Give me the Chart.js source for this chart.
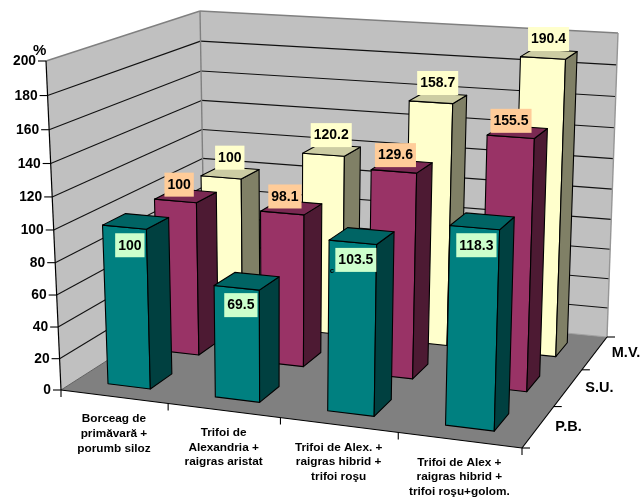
<!DOCTYPE html>
<html><head><meta charset="utf-8">
<style>html,body{margin:0;padding:0;background:#fff}canvas{display:block}</style>
<script src="https://cdn.jsdelivr.net/npm/chart.js@4"></script></head>
<body><canvas id="c" width="643" height="499"></canvas>
<script>
const categories = [
  ['Borceag de','primăvară +','porumb siloz'],
  ['Trifoi de','Alexandria +','raigras aristat'],
  ['Trifoi de Alex. +','raigras hibrid +','trifoi roşu'],
  ['Trifoi de Alex +','raigras hibrid +','trifoi roşu+golom.']
];
const seriesNames = ['P.B.','S.U.','M.V.'];
const pbValues = [100,69.5,103.5,118.3];
const suValues = [100,98.1,129.6,155.5];
const mvValues = [100,120.2,158.7,190.4];

// picture geometry: corners of the 3D box on screen
const FLOOR = [[61,390],[522,448],[607,337],[205,298]];   // front-left, front-right, back-right, back-left
const CEIL  = [[46,61],[532,92],[618,33],[200,11]];
const PERSP = 1.056, UWARP = 0.022;
const BAR_W = 0.4, BAR_D = 0.43; // share of a cell taken by a bar

function homography(q){
  const [[x0,y0],[x1,y1],[x2,y2],[x3,y3]] = q;
  const dx1=x1-x2,dx2=x3-x2,sx=x0-x1+x2-x3,dy1=y1-y2,dy2=y3-y2,sy=y0-y1+y2-y3;
  const d=dx1*dy2-dx2*dy1;
  const g=(sx*dy2-dx2*sy)/d,h=(dx1*sy-sx*dy1)/d;
  const a=x1-x0+g*x1,b=x3-x0+h*x3,c=x0,e=y1-y0+g*y1,f=y3-y0+h*y3,k=y0;
  return (u,v)=>{const w=g*u+h*v+1;return [(a*u+b*v+c)/w,(e*u+f*v+k)/w];};
}
const H0=homography(FLOOR),H1=homography(CEIL);
function P(u,v,w){
  const t=w/(w+PERSP*(1-w));
  const uu=u+UWARP*u*(1-u);
  const a=H0(uu,v),b=H1(uu,v);
  return [a[0]+(b[0]-a[0])*t,a[1]+(b[1]-a[1])*t];
}
function poly(ctx,pts,fill,stroke,lw){
  ctx.beginPath();pts.forEach((p,i)=>i?ctx.lineTo(p[0],p[1]):ctx.moveTo(p[0],p[1]));ctx.closePath();
  if(fill){ctx.fillStyle=fill;ctx.fill();}
  if(stroke){ctx.strokeStyle=stroke;ctx.lineWidth=lw||1;ctx.stroke();}
}
function line(ctx,a,b,color,lw){ctx.beginPath();ctx.moveTo(a[0],a[1]);ctx.lineTo(b[0],b[1]);ctx.strokeStyle=color;ctx.lineWidth=lw||1;ctx.stroke();}

const styles=[
  {front:'#008080',top:'#006464',side:'#004040',box:'#CCFFCC',dx:-6,dy:24},
  {front:'#993366',top:'#7A2952',side:'#4D1A33',box:'#FFCC99',dx:-6.5,dy:-11},
  {front:'#FFFFCC',top:'#CCCCA3',side:'#808066',box:'#FFFFCC',dx:-0.5,dy:-15}
];

const box3d={
  id:'box3d',
  beforeDatasetDraw(){return false;},
  afterDatasetsDraw(chart){
    const ctx=chart.ctx,{x,y,z}=chart.scales;
    const U=i=>x.getDecimalForPixel(x.getPixelForValue(i));
    const V=i=>z.getDecimalForPixel(z.getPixelForValue(i));
    const W=val=>y.getDecimalForPixel(y.getPixelForValue(val));
    const du=1/(2*categories.length)*BAR_W,dv=1/(2*seriesNames.length)*BAR_D;
    ctx.save();ctx.lineJoin='round';
    // walls and floor
    poly(ctx,[P(0,0,0),P(0,1,0),P(0,1,1),P(0,0,1)],'#C0C0C0');
    poly(ctx,[P(0,1,0),P(1,1,0),P(1,1,1),P(0,1,1)],'#C0C0C0');
    poly(ctx,[P(0,0,0),P(1,0,0),P(1,1,0),P(0,1,0)],'#808080');
    // grid
    y.ticks.forEach(t=>{
      const w=W(t.value);
      if(t.value>0&&t.value<200){
        line(ctx,P(0,0,w),P(0,1,w),'#111',1.1);
        line(ctx,P(0,1,w),P(1,1,w),'#111',1.1);
      }
    });
    // wall edges
    line(ctx,P(0,0,1),P(0,1,1),'#808080',1.4);
    line(ctx,P(0,1,1),P(1,1,1),'#808080',1.4);
    line(ctx,P(1,1,1),P(1,1,0),'#969696',1.4);
    line(ctx,P(0,1,1),P(0,1,0),'#808080',1.4);
    line(ctx,P(0,0,0),P(0,1,0),'#606060',1);
    line(ctx,P(0,1,0),P(1,1,0),'#A0A0A0',1);
    // axes
    line(ctx,P(0,0,1),P(0,0,0),'#000',1.2);
    line(ctx,P(0,0,0),P(1,0,0),'#000',1.2);
    line(ctx,P(1,0,0),P(1,1,0),'#000',1.2);
    ctx.fillStyle='#000';
    // y ticks and labels
    ctx.font='bold 13.8px "Liberation Sans"';ctx.textAlign='right';ctx.textBaseline='middle';
    y.ticks.forEach(t=>{
      const p=P(0,0,W(t.value));
      line(ctx,[p[0]-8,p[1]],p,'#000',1.1);
      ctx.fillStyle='#000';ctx.fillText(String(t.value),p[0]-10,p[1]+0.5);
    });
    ctx.textAlign='left';ctx.font='bold 15px "Liberation Sans"';
    ctx.fillText('%',P(0,0,1)[0]-13,P(0,0,1)[1]-10);
    // category ticks and labels
    for(let i=0;i<=categories.length;i++){
      const p=P(i/categories.length,0,0);line(ctx,p,[p[0],p[1]+7],'#000',1.1);
    }
    ctx.textAlign='center';ctx.font='bold 11.8px "Liberation Sans"';
    categories.forEach((lines,i)=>{
      const p=P(U(i),0,0);
      lines.forEach((s,j)=>ctx.fillText(s,p[0],p[1]+22.5+j*14.6));
    });
    // series ticks and labels
    for(let i=0;i<=seriesNames.length;i++){
      const p=P(1,i/seriesNames.length,0);line(ctx,p,[p[0]+8,p[1]],'#000',1.1);
    }
    ctx.textAlign='left';ctx.font='bold 14.5px "Liberation Sans"';
    seriesNames.forEach((s,i)=>{
      const p=P(1,V(i),0);ctx.fillText(s,p[0]+17,p[1]);
    });
    // bars back to front
    const labels=[];
    for(let si=seriesNames.length-1;si>=0;si--){
      const st=styles[si],vals=chart.data.datasets[si].data;
      vals.forEach((val,ci)=>{
        const w=W(val),u0=U(ci)-du,u1=U(ci)+du,v0=V(si)-dv,v1=V(si)+dv;
        poly(ctx,[P(u0,v0,0),P(u1,v0,0),P(u1,v0,w),P(u0,v0,w)],st.front,'#000',1.1);
        poly(ctx,[P(u1,v0,0),P(u1,v1,0),P(u1,v1,w),P(u1,v0,w)],st.side,'#000',1.1);
        poly(ctx,[P(u0,v0,w),P(u1,v0,w),P(u1,v1,w),P(u0,v1,w)],st.top,'#000',1.1);
        const a=P(U(ci),V(si),w);
        labels.push({t:String(val),x:a[0]+st.dx,y:a[1]+st.dy,box:st.box,si});
      });
      // labels of a row stay under nearer rows, as in the reference
      ctx.font='bold 14px "Liberation Sans"';ctx.textAlign='center';
      labels.splice(0).forEach(l=>{
        const tw=ctx.measureText(l.t).width+6;
        ctx.fillStyle=l.box;ctx.fillRect(l.x-tw/2,l.y-12,tw,24);
        ctx.fillStyle='#000';ctx.fillText(l.t,l.x,l.y+0.5);
      });
    }
    // stray mark in the reference
    ctx.font='bold 8px "Liberation Sans"';ctx.fillStyle='#000';ctx.fillText('c',332,271);
    ctx.restore();
  }
};

new Chart(document.getElementById('c'),{
  type:'bar',
  data:{labels:categories.map(c=>c.join(' ')),datasets:[
    {label:seriesNames[0],data:pbValues,backgroundColor:styles[0].front},
    {label:seriesNames[1],data:suValues,backgroundColor:styles[1].front},
    {label:seriesNames[2],data:mvValues,backgroundColor:styles[2].front}
  ]},
  options:{
    responsive:false,animation:false,devicePixelRatio:1,
    layout:{padding:0},
    plugins:{legend:{display:false},title:{display:false},tooltip:{enabled:false}},
    scales:{
      x:{display:false},
      y:{display:false,min:0,max:200,ticks:{stepSize:20}},
      z:{type:'category',axis:'x',position:'bottom',labels:seriesNames,display:false}
    }
  },
  plugins:[box3d]
});
</script></body></html>
